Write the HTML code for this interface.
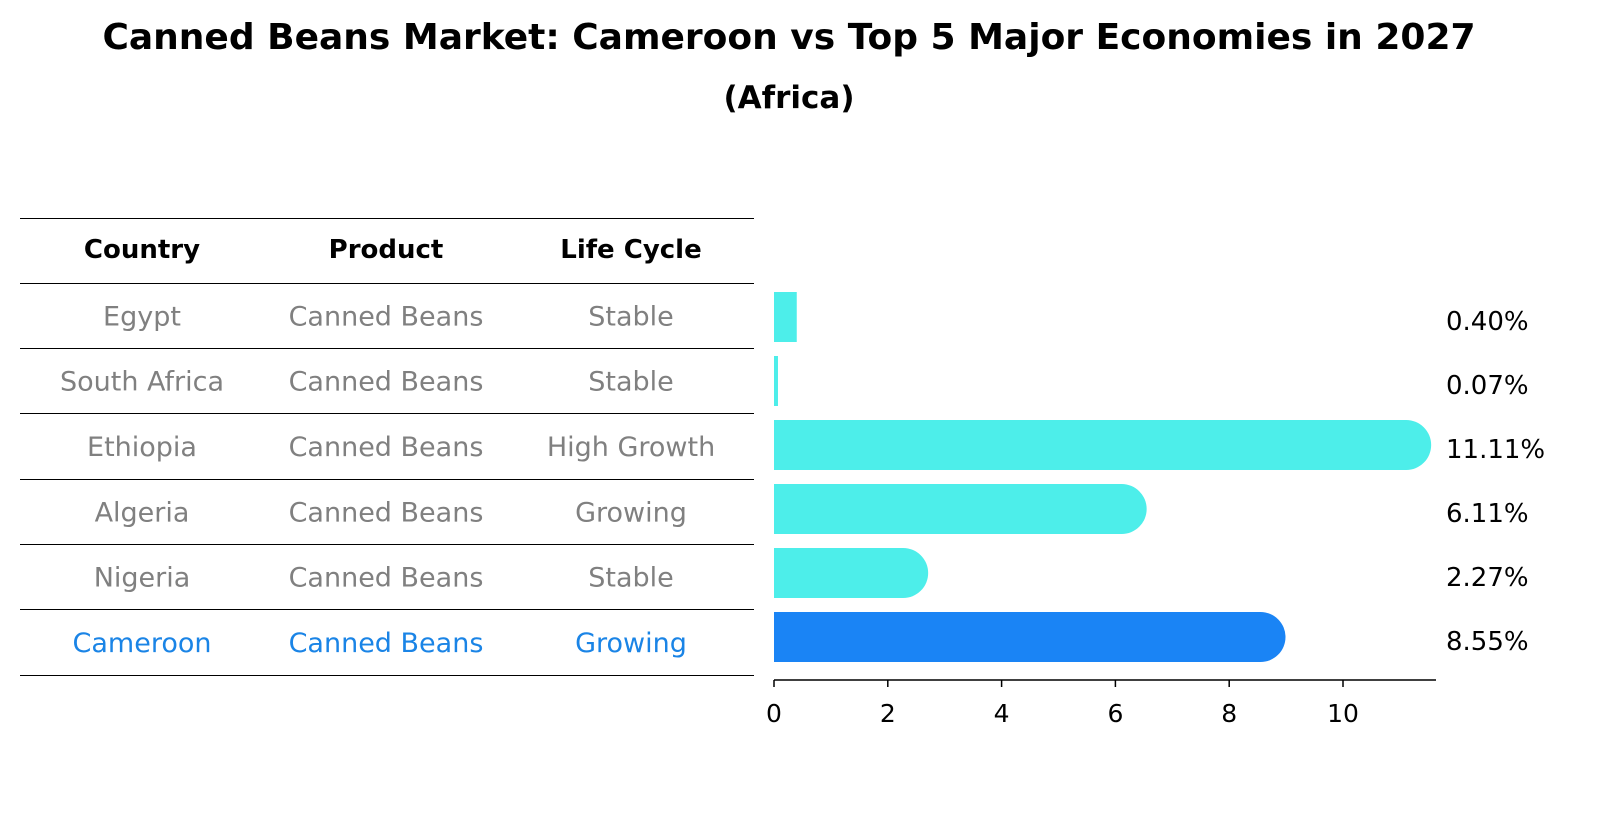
<!DOCTYPE html>
<html><head><meta charset="utf-8"><style>
body{margin:0;background:#fff;font-family:"Liberation Sans","DejaVu Sans",sans-serif}
svg text{font-family:"DejaVu Sans","Liberation Sans",sans-serif}
</style></head><body>
<svg width="1604" height="823" xmlns="http://www.w3.org/2000/svg">
<text x="789" y="49" text-anchor="middle" font-size="36" font-weight="bold">Canned Beans Market: Cameroon vs Top 5 Major Economies in 2027</text>
<text x="789" y="108" text-anchor="middle" font-size="31" font-weight="bold">(Africa)</text>
<g id="table"></g>
<g id="bars"></g>
</svg>
<script>
const countries=["Egypt","South Africa","Ethiopia","Algeria","Nigeria","Cameroon"];
const products=["Canned Beans","Canned Beans","Canned Beans","Canned Beans","Canned Beans","Canned Beans"];
const lifecycles=["Stable","Stable","High Growth","Growing","Stable","Growing"];
const values=[0.40,0.07,11.11,6.11,2.27,8.55];
const xticks=[0,2,4,6,8,10];
const NS="http://www.w3.org/2000/svg";
function mk(t,a,p){const e=document.createElementNS(NS,t);for(const k in a)e.setAttribute(k,a[k]);p.appendChild(e);return e;}
const tb=document.getElementById('table');
const lineYs=[218,283,348,413,479,544,609,675];
lineYs.forEach(y=>{const l=mk('line',{x1:20,x2:754,y1:y+0.5,y2:y+0.5,stroke:'#000','stroke-width':1},tb);

});
const colX=[142,386,631];
["Country","Product","Life Cycle"].forEach((h,i)=>{const t=mk('text',{x:colX[i],y:258,'text-anchor':'middle','font-size':26,'font-weight':'bold'},tb);t.textContent=h;

});
countries.forEach((c,r)=>{const y=(lineYs[r+1]+lineYs[r+2])/2+10;const col=r===countries.length-1?'#1a84e6':'#808080';
[c,products[r],lifecycles[r]].forEach((v,i)=>{const t=mk('text',{x:colX[i],y:y,'text-anchor':'middle','font-size':27,fill:col},tb);t.textContent=v;

});});
const g=document.getElementById('bars');
const x0=774,ppu=56.9;const xs=v=>x0+v*ppu;
const yc=r=>317+r*64;const bh=50,cap=25;
values.forEach((v,r)=>{const col=r===values.length-1?'#1a84f5':'#4deeea';
const w=xs(v)-x0;const top=yc(r)-bh/2;let d;
if(w>cap){d=`M${x0},${top} H${xs(v)} A${cap},${cap} 0 0 1 ${xs(v)},${top+bh} H${x0} Z`;}
else{d=`M${x0},${top} H${xs(v)} V${top+bh} H${x0} Z`;}
const p=mk('path',{d:d,fill:col},g);


const t=mk('text',{x:1446,y:yc(r)+13,'font-size':26},g);t.textContent=v.toFixed(2)+'%';

});
const ax=mk('line',{x1:x0,x2:1436,y1:680,y2:680,stroke:'#000','stroke-width':1.5},g);


xticks.forEach(v=>{const l=mk('line',{x1:xs(v),x2:xs(v),y1:680,y2:687,stroke:'#000','stroke-width':1.5},g);


const t=mk('text',{x:xs(v),y:722,'text-anchor':'middle','font-size':25},g);t.textContent=v;

});
</script>
</body></html>
